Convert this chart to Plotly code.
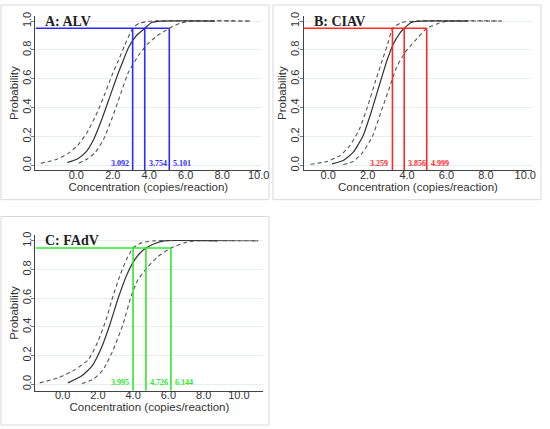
import plotly.graph_objects as go

W, H = 550, 429

# panel names
titles = ["A: ALV", "B: CIAV", "C: FAdV"]
line_colors = ["#2b2bff", "#ff2b2b", "#2ee82e"]

# probability level for the detection limits
prob_level = 0.95

# detection limits (lower CI, estimate, upper CI), copies/reaction
lod_a = [3.092, 3.754, 5.101]
lod_b = [3.259, 3.856, 4.999]
lod_c = [3.995, 4.726, 6.144]

# curves: fitted probit and its two confidence limits
fit_a_x = [-0.5, 0.06, 0.51, 0.95, 1.4, 1.85, 2.3, 2.52, 2.88, 3.3, 3.754, 4.13, 4.65, 7.6]
fit_a_y = [0.02, 0.045, 0.09, 0.18, 0.32, 0.48, 0.64, 0.71, 0.82, 0.90, 0.95, 0.99, 1.0, 1.0]
lo_a_x = [-1.95, -1.11, -0.48, 0.06, 0.6, 1.14, 1.58, 1.94, 2.25, 2.65, 3.092, 3.45, 4.13, 9.6]
lo_a_y = [0.015, 0.041, 0.08, 0.137, 0.23, 0.365, 0.50, 0.62, 0.71, 0.83, 0.95, 0.985, 1.0, 1.0]
hi_a_x = [0.13, 0.6, 1.04, 1.49, 1.94, 2.39, 2.84, 3.4, 3.9, 4.4, 5.101, 5.7, 6.3, 9.6]
hi_a_y = [0.015, 0.045, 0.09, 0.18, 0.32, 0.48, 0.64, 0.76, 0.84, 0.895, 0.95, 0.985, 1.0, 1.0]

fit_b_x = [0.19, 0.76, 1.26, 1.75, 2.16, 2.57, 2.98, 3.3, 3.6, 3.856, 4.21, 4.62, 7.08]
fit_b_y = [0.011, 0.034, 0.09, 0.20, 0.36, 0.545, 0.727, 0.84, 0.91, 0.95, 0.99, 1.0, 1.0]
lo_b_x = [-0.9, -0.06, 0.6, 1.09, 1.58, 2.0, 2.41, 2.82, 3.06, 3.259, 3.72, 4.54, 8.8]
lo_b_y = [0.008, 0.027, 0.068, 0.136, 0.25, 0.41, 0.59, 0.76, 0.86, 0.95, 0.99, 1.0, 1.0]
hi_b_x = [0.76, 1.26, 1.75, 2.24, 2.65, 3.06, 3.47, 3.88, 4.38, 4.999, 5.52, 6.02, 8.8]
hi_b_y = [0.006, 0.027, 0.09, 0.20, 0.36, 0.52, 0.68, 0.78, 0.86, 0.95, 0.98, 1.0, 1.0]

fit_c_x = [0.3, 1.09, 1.66, 2.22, 2.69, 3.15, 3.62, 3.995, 4.35, 4.726, 5.2, 5.77, 8.77]
fit_c_y = [0.01, 0.059, 0.126, 0.26, 0.42, 0.60, 0.757, 0.85, 0.91, 0.95, 0.98, 1.0, 1.0]
lo_c_x = [-1.3, -0.2, 0.72, 1.47, 2.03, 2.5, 2.87, 3.25, 3.62, 3.995, 4.46, 5.2, 11.1]
lo_c_y = [0.01, 0.047, 0.104, 0.173, 0.306, 0.464, 0.62, 0.757, 0.87, 0.95, 0.986, 1.0, 1.0]
hi_c_x = [1.09, 1.75, 2.31, 2.87, 3.43, 3.9, 4.28, 4.84, 5.4, 6.144, 6.9, 7.46, 11.1]
hi_c_y = [0.005, 0.036, 0.104, 0.24, 0.42, 0.62, 0.73, 0.82, 0.89, 0.95, 0.986, 1.0, 1.0]

x_ticks = [0, 2, 4, 6, 8, 10]
y_ticks = [0, 0.2, 0.4, 0.6, 0.8, 1.0]

panels = [
    dict(lod=lod_a, fit=(fit_a_x, fit_a_y), lo=(lo_a_x, lo_a_y), hi=(hi_a_x, hi_a_y),
         xr=[-2.24, 10.14], yr=[-0.034, 1.036], px=(36, 265), py=(12, 168.3)),
    dict(lod=lod_b, fit=(fit_b_x, fit_b_y), lo=(lo_b_x, lo_b_y), hi=(hi_b_x, hi_b_y),
         xr=[-1.24, 10.35], yr=[-0.034, 1.036], px=(308.3, 540), py=(12, 168.3)),
    dict(lod=lod_c, fit=(fit_c_x, fit_c_y), lo=(lo_c_x, lo_c_y), hi=(hi_c_x, hi_c_y),
         xr=[-1.54, 11.39], yr=[-0.045, 1.039], px=(36, 267.3), py=(234, 391.3)),
]

SERIF = "Liberation Serif"
SANS = "Liberation Sans"

fig = go.Figure()
layout = {}
annotations = []
shapes = []

for i, p in enumerate(panels):
    n = "" if i == 0 else str(i + 1)
    xa, ya = "x" + n, "y" + n
    col = line_colors[i]
    lo_v, est_v, hi_v = p["lod"]
    ybot = p["yr"][0]

    for (cx, cy), dash, width, colr in [
        (p["lo"], "4px,3px", 1.1, "#555555"),
        (p["hi"], "4px,3px", 1.1, "#555555"),
        (p["fit"], "solid", 1.2, "#333333"),
    ]:
        fig.add_trace(go.Scatter(
            x=cx, y=cy, mode="lines", xaxis=xa, yaxis=ya,
            line=dict(color=colr, width=width, dash=dash, shape="spline", smoothing=0.5),
            showlegend=False, hoverinfo="skip"))

    # horizontal 95% line and the three drop lines
    fig.add_trace(go.Scatter(
        x=[p["xr"][0], hi_v], y=[prob_level, prob_level], mode="lines",
        xaxis=xa, yaxis=ya, line=dict(color=col, width=1.6),
        showlegend=False, hoverinfo="skip"))
    for v in p["lod"]:
        fig.add_trace(go.Scatter(
            x=[v, v], y=[ybot, prob_level], mode="lines",
            xaxis=xa, yaxis=ya, line=dict(color=col, width=1.6),
            showlegend=False, hoverinfo="skip"))

    # value labels
    for v, anchor, shift in [(lo_v, "right", -2), (est_v, "left", 2), (hi_v, "left", 2)]:
        annotations.append(dict(
            x=v, y=0.012, xref=xa, yref=ya, text="<b>%.3f</b>" % v,
            showarrow=False, xanchor=anchor, yanchor="middle", xshift=shift,
            font=dict(family=SERIF, size=8, color=col)))

    # panel title
    annotations.append(dict(
        x=p["xr"][0], y=1.0, xref=xa, yref=ya,
        text="<b>%s</b>" % titles[i], showarrow=False,
        xanchor="left", yanchor="middle", xshift=8,
        font=dict(family=SERIF, size=14, color="#222222")))

    dom_x = [p["px"][0] / W, p["px"][1] / W]
    dom_y = [1 - p["py"][1] / H, 1 - p["py"][0] / H]
    layout["xaxis" + n] = dict(
        domain=dom_x, range=p["xr"], anchor=ya, tickvals=x_ticks, tickformat=".1f",
        showgrid=False, zeroline=False, showline=True, linecolor="#444444",
        linewidth=1, ticks="", ticklabelstandoff=-6,
        tickfont=dict(family=SANS, size=11, color="#333333"),
        title=dict(text="Concentration (copies/reaction)", standoff=0,
                   font=dict(family=SANS, size=11.5, color="#333333")))
    layout["yaxis" + n] = dict(
        domain=dom_y, range=p["yr"], anchor=xa, tickvals=y_ticks, tickformat=".1f",
        tickangle=-90, showgrid=True, gridcolor="#e8eef0", gridwidth=1,
        zeroline=False, showline=True, linecolor="#444444", linewidth=1,
        ticks="outside", ticklen=3, tickcolor="#777777", ticklabelstandoff=-4,
        tickfont=dict(family=SANS, size=11, color="#333333"),
        title=dict(text="Probability", standoff=0,
                   font=dict(family=SANS, size=11.5, color="#333333")))

# light frames round each panel
for x0, y0, x1, y1 in [(1, 1, 273, 198), (277, 1, 549, 198), (1, 215, 273, 426)]:
    shapes.append(dict(type="rect", xref="paper", yref="paper",
                       x0=x0 / W, x1=x1 / W, y0=1 - y1 / H, y1=1 - y0 / H,
                       line=dict(color="#d9d9d9", width=1), fillcolor="rgba(0,0,0,0)",
                       layer="below"))

fig.update_layout(
    width=W, height=H, margin=dict(l=0, r=0, t=0, b=0),
    paper_bgcolor="white", plot_bgcolor="white",
    annotations=annotations, shapes=shapes, **layout)

# page has a default 8px body margin; drop it so the figure fills the window
fig.write_html("out.html", config={"displayModeBar": False},
               post_script="document.body.style.margin='0';")
